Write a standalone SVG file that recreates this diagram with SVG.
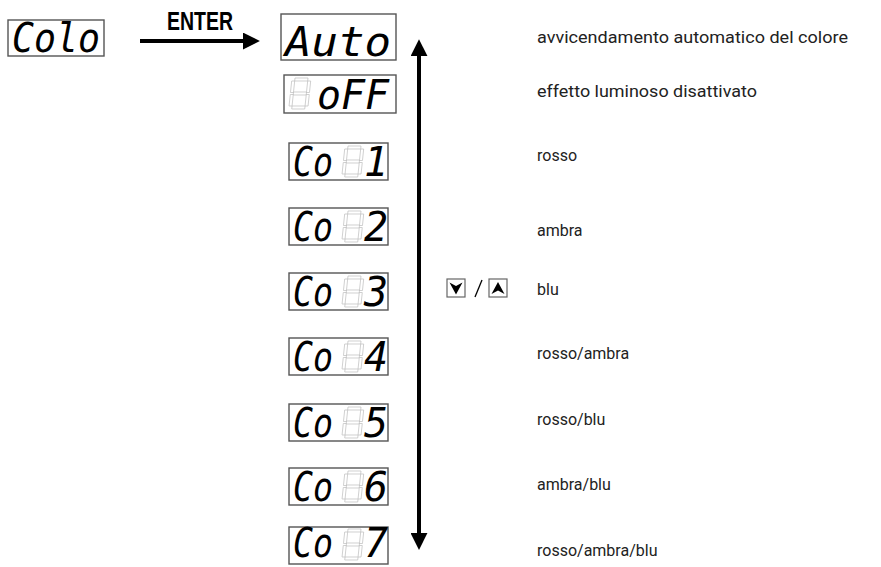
<svg xmlns="http://www.w3.org/2000/svg" width="881" height="567" viewBox="0 0 881 567">
<style>
.box{fill:#fff;stroke:#555;stroke-width:1.4}
.seg{font-family:"DejaVu Sans Mono","Liberation Mono",monospace;font-style:oblique;font-size:40px;fill:#000}
.ghost rect{fill:none;stroke:#bdbdbd;stroke-width:0.7}
.lbl{font-family:Roboto,"Liberation Sans",sans-serif;font-size:16px;fill:#222}
.lbl2{font-family:Roboto,"Liberation Sans",sans-serif;font-size:17px;fill:#222}
.enter{font-family:"Liberation Sans",Arial,sans-serif;font-weight:bold;font-size:25px;fill:#000}
.conn{stroke:#000;stroke-width:4;fill:none}
.key{fill:#fff;stroke:#666;stroke-width:1.2}
</style>
<defs>
<g id="cell" class="ghost" transform="skewX(-6)">
<rect x="3" y="0" width="13" height="3"/>
<rect x="16" y="3" width="3" height="11.5"/>
<rect x="16" y="16.5" width="3" height="11.5"/>
<rect x="3" y="28" width="13" height="3"/>
<rect x="0" y="16.5" width="3" height="11.5"/>
<rect x="0" y="3" width="3" height="11.5"/>
<rect x="3" y="14" width="13" height="3"/>
</g>
<marker id="ah" viewBox="0 0 16 16" refX="2" refY="8" markerWidth="17" markerHeight="17" markerUnits="userSpaceOnUse" orient="auto">
<path d="M0,0 L16,8 L0,16 Z" fill="#000"/>
</marker>
</defs>

<g id="colo">
<rect class="box" x="8" y="20" width="96" height="36"/>
<text class="seg" x="12" y="52" textLength="88" lengthAdjust="spacingAndGlyphs">Colo</text>
</g>

<g id="auto">
<rect class="box" x="281" y="14" width="115" height="46"/>
<text class="seg" x="285" y="56" textLength="106" lengthAdjust="spacingAndGlyphs">Auto</text>
</g>

<g id="off">
<rect class="box" x="284" y="75" width="112" height="38"/>
<use href="#cell" x="292" y="78"/>
<text class="seg" x="317" y="109" textLength="72" lengthAdjust="spacingAndGlyphs">oFF</text>
</g>

<g id="co1">
<rect class="box" x="289" y="143" width="99" height="37"/>
<text class="seg" x="293" y="176" textLength="40" lengthAdjust="spacingAndGlyphs">Co</text>
<use href="#cell" x="345" y="146"/>
<text class="seg" x="388" y="176" text-anchor="end">1</text>
</g>

<g id="co2">
<rect class="box" x="289" y="208" width="99" height="37"/>
<text class="seg" x="293" y="241" textLength="40" lengthAdjust="spacingAndGlyphs">Co</text>
<use href="#cell" x="345" y="211"/>
<text class="seg" x="388" y="241" text-anchor="end">2</text>
</g>

<g id="co3">
<rect class="box" x="289" y="273" width="99" height="37"/>
<text class="seg" x="293" y="306" textLength="40" lengthAdjust="spacingAndGlyphs">Co</text>
<use href="#cell" x="345" y="276"/>
<text class="seg" x="388" y="306" text-anchor="end">3</text>
</g>

<g id="co4">
<rect class="box" x="289" y="338" width="99" height="37"/>
<text class="seg" x="293" y="371" textLength="40" lengthAdjust="spacingAndGlyphs">Co</text>
<use href="#cell" x="345" y="341"/>
<text class="seg" x="388" y="371" text-anchor="end">4</text>
</g>

<g id="co5">
<rect class="box" x="289" y="404" width="99" height="37"/>
<text class="seg" x="293" y="437" textLength="40" lengthAdjust="spacingAndGlyphs">Co</text>
<use href="#cell" x="345" y="407"/>
<text class="seg" x="388" y="437" text-anchor="end">5</text>
</g>

<g id="co6">
<rect class="box" x="289" y="468" width="99" height="37"/>
<text class="seg" x="293" y="501" textLength="40" lengthAdjust="spacingAndGlyphs">Co</text>
<use href="#cell" x="345" y="471"/>
<text class="seg" x="388" y="501" text-anchor="end">6</text>
</g>

<g id="co7">
<rect class="box" x="289" y="527" width="99" height="37"/>
<text class="seg" x="293" y="557" textLength="40" lengthAdjust="spacingAndGlyphs">Co</text>
<use href="#cell" x="345" y="529"/>
<text class="seg" x="388" y="557" text-anchor="end">7</text>
</g>

<g id="connectors">
<line class="conn" x1="140" y1="41" x2="245" y2="41" marker-end="url(#ah)"/>
<line class="conn" x1="419" y1="290" x2="419" y2="54" marker-end="url(#ah)"/>
<line class="conn" x1="419" y1="290" x2="419" y2="535" marker-end="url(#ah)"/>
</g>

<g id="enter-label">
<text class="enter" x="200" y="30" text-anchor="middle" textLength="66" lengthAdjust="spacingAndGlyphs">ENTER</text>
</g>

<g id="keys">
<rect class="key" x="447" y="279" width="18" height="18"/>
<path d="M449.5,282.5 L456,286 L462.5,282.5 L456,294.5 Z" fill="#000"/>
<line x1="482" y1="280" x2="475" y2="297" stroke="#000" stroke-width="1.3"/>
<rect class="key" x="489" y="279" width="18" height="18"/>
<path d="M491.5,294 L498,290.5 L504.5,294 L498,282 Z" fill="#000"/>
</g>

<g id="labels">
<text class="lbl2" x="537" y="43" textLength="311" lengthAdjust="spacingAndGlyphs">avvicendamento automatico del colore</text>
<text class="lbl2" x="537" y="97" textLength="220" lengthAdjust="spacingAndGlyphs">effetto luminoso disattivato</text>
<text class="lbl" x="537" y="161">rosso</text>
<text class="lbl" x="537" y="236">ambra</text>
<text class="lbl" x="537" y="295">blu</text>
<text class="lbl" x="537" y="359">rosso/ambra</text>
<text class="lbl" x="537" y="425">rosso/blu</text>
<text class="lbl" x="537" y="490">ambra/blu</text>
<text class="lbl" x="537" y="556">rosso/ambra/blu</text>
</g>
</svg>
